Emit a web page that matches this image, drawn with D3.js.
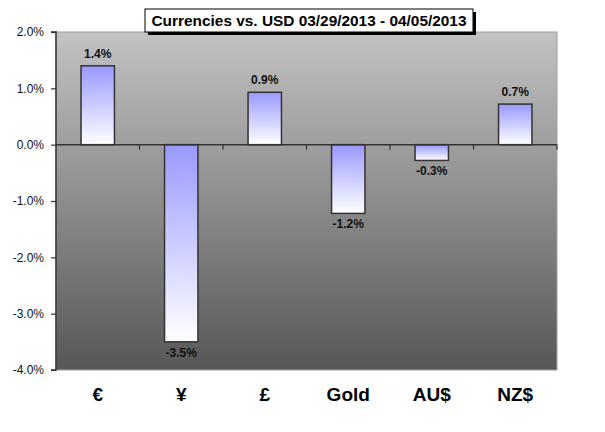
<!DOCTYPE html>
<html><head><meta charset="utf-8">
<script src="https://cdn.jsdelivr.net/npm/d3@7"></script>
<style>body{margin:0;background:#fff}svg{display:block}</style>
</head><body>
<script>
const categories = ["€", "¥", "£", "Gold", "AU$", "NZ$"];
const values = [1.40, -3.50, 0.93, -1.22, -0.28, 0.72];
const yTicks = [2, 1, 0, -1, -2, -3, -4];
const title = "Currencies vs. USD 03/29/2013 - 04/05/2013";

const W = 605, H = 432;
const m = {left: 56, right: 48, top: 32, bottom: 62};
const fmt = d => d3.format(".1f")(d).replace("\u2212", "-") + "%";
const svg = d3.select("body").append("svg").attr("width", W).attr("height", H);
const defs = svg.append("defs");
const bg = defs.append("linearGradient").attr("id","bg").attr("x1",0).attr("y1",0).attr("x2",0).attr("y2",1);
bg.append("stop").attr("offset","0%").attr("stop-color","#c2c2c2");
bg.append("stop").attr("offset","100%").attr("stop-color","#575757");
const bf = defs.append("linearGradient").attr("id","bar").attr("x1",0).attr("y1",0).attr("x2",0).attr("y2",1);
bf.append("stop").attr("offset","0%").attr("stop-color","#9999ff");
bf.append("stop").attr("offset","100%").attr("stop-color","#ffffff");

const x = d3.scaleBand().domain(categories).range([m.left, W - m.right]).paddingInner(0.6).paddingOuter(0.3);
const xb = d3.scaleBand().domain(categories).range([m.left, W - m.right]);
const y = d3.scaleLinear().domain([-4, 2]).range([H - m.bottom, m.top]);

svg.append("rect").attr("x", m.left).attr("y", m.top).attr("width", W - m.right - m.left)
  .attr("height", H - m.bottom - m.top).attr("fill", "url(#bg)").attr("stroke","#a0a0a0").attr("stroke-width",1);

// bars
svg.append("g").selectAll("rect").data(values).join("rect")
  .attr("x", (d,i) => x(categories[i]))
  .attr("width", x.bandwidth())
  .attr("y", d => y(Math.max(0,d)))
  .attr("height", d => Math.abs(y(d) - y(0)))
  .attr("fill","url(#bar)").attr("stroke","#333").attr("stroke-width",1.5);

// zero line + x ticks at band boundaries
svg.append("line").attr("x1", m.left).attr("x2", W - m.right).attr("y1", y(0)).attr("y2", y(0))
  .attr("stroke","#333").attr("stroke-width",1.5);
svg.append("g").selectAll("line").data(categories).join("line")
  .attr("x1", d => xb(d) + xb.bandwidth())
  .attr("x2", d => xb(d) + xb.bandwidth())
  .attr("y1", y(0)).attr("y2", y(0) + 5).attr("stroke","#333").attr("stroke-width",1.2);

// y axis
const yAxis = d3.axisLeft(y).tickValues(yTicks).tickSize(5).tickFormat(fmt);
const ga = svg.append("g").attr("transform", `translate(${m.left},0)`).call(yAxis);
ga.select(".domain").attr("stroke","#333").attr("stroke-width",1.5).attr("d", `M-5,${y(2)}H0V${y(-4)}H-5`);
ga.selectAll(".tick line").attr("stroke","#333").attr("stroke-width",1.2);
ga.selectAll(".tick text").attr("x", -12).attr("font-family","Arial, 'Liberation Sans', sans-serif")
  .attr("font-size", 12).attr("fill","#111");

// value labels
svg.append("g").selectAll("text").data(values).join("text")
  .attr("x", (d,i) => x(categories[i]) + x.bandwidth()/2)
  .attr("y", d => d >= 0 ? y(d) - 8 : y(d) + 15)
  .attr("text-anchor","middle")
  .attr("font-family","'Liberation Sans Narrow', 'Arial Narrow', Arial, sans-serif")
  .attr("font-weight","bold").attr("font-size", 12).attr("fill","#111")
  .text(fmt);

// category labels
svg.append("g").selectAll("text").data(categories).join("text")
  .attr("x", d => xb(d) + xb.bandwidth()/2)
  .attr("y", 401)
  .attr("text-anchor","middle")
  .attr("font-family","Arial, 'Liberation Sans', sans-serif")
  .attr("font-weight","bold").attr("font-size", 19).attr("fill","#000")
  .text(d => d);

// title box
const tb = {x: 145, y: 9, w: 328, h: 23};
svg.append("rect").attr("x", tb.x + 3).attr("y", tb.y + 3).attr("width", tb.w).attr("height", tb.h).attr("fill","#000");
svg.append("rect").attr("x", tb.x).attr("y", tb.y).attr("width", tb.w).attr("height", tb.h)
  .attr("fill","#fff").attr("stroke","#000").attr("stroke-width",1);
svg.append("text").attr("x", tb.x + tb.w/2).attr("y", tb.y + 17).attr("text-anchor","middle")
  .attr("font-family","Arial, 'Liberation Sans', sans-serif").attr("font-weight","bold").attr("font-size",15)
  .attr("textLength", 315).attr("lengthAdjust","spacingAndGlyphs")
  .text(title);
</script>
</body></html>
